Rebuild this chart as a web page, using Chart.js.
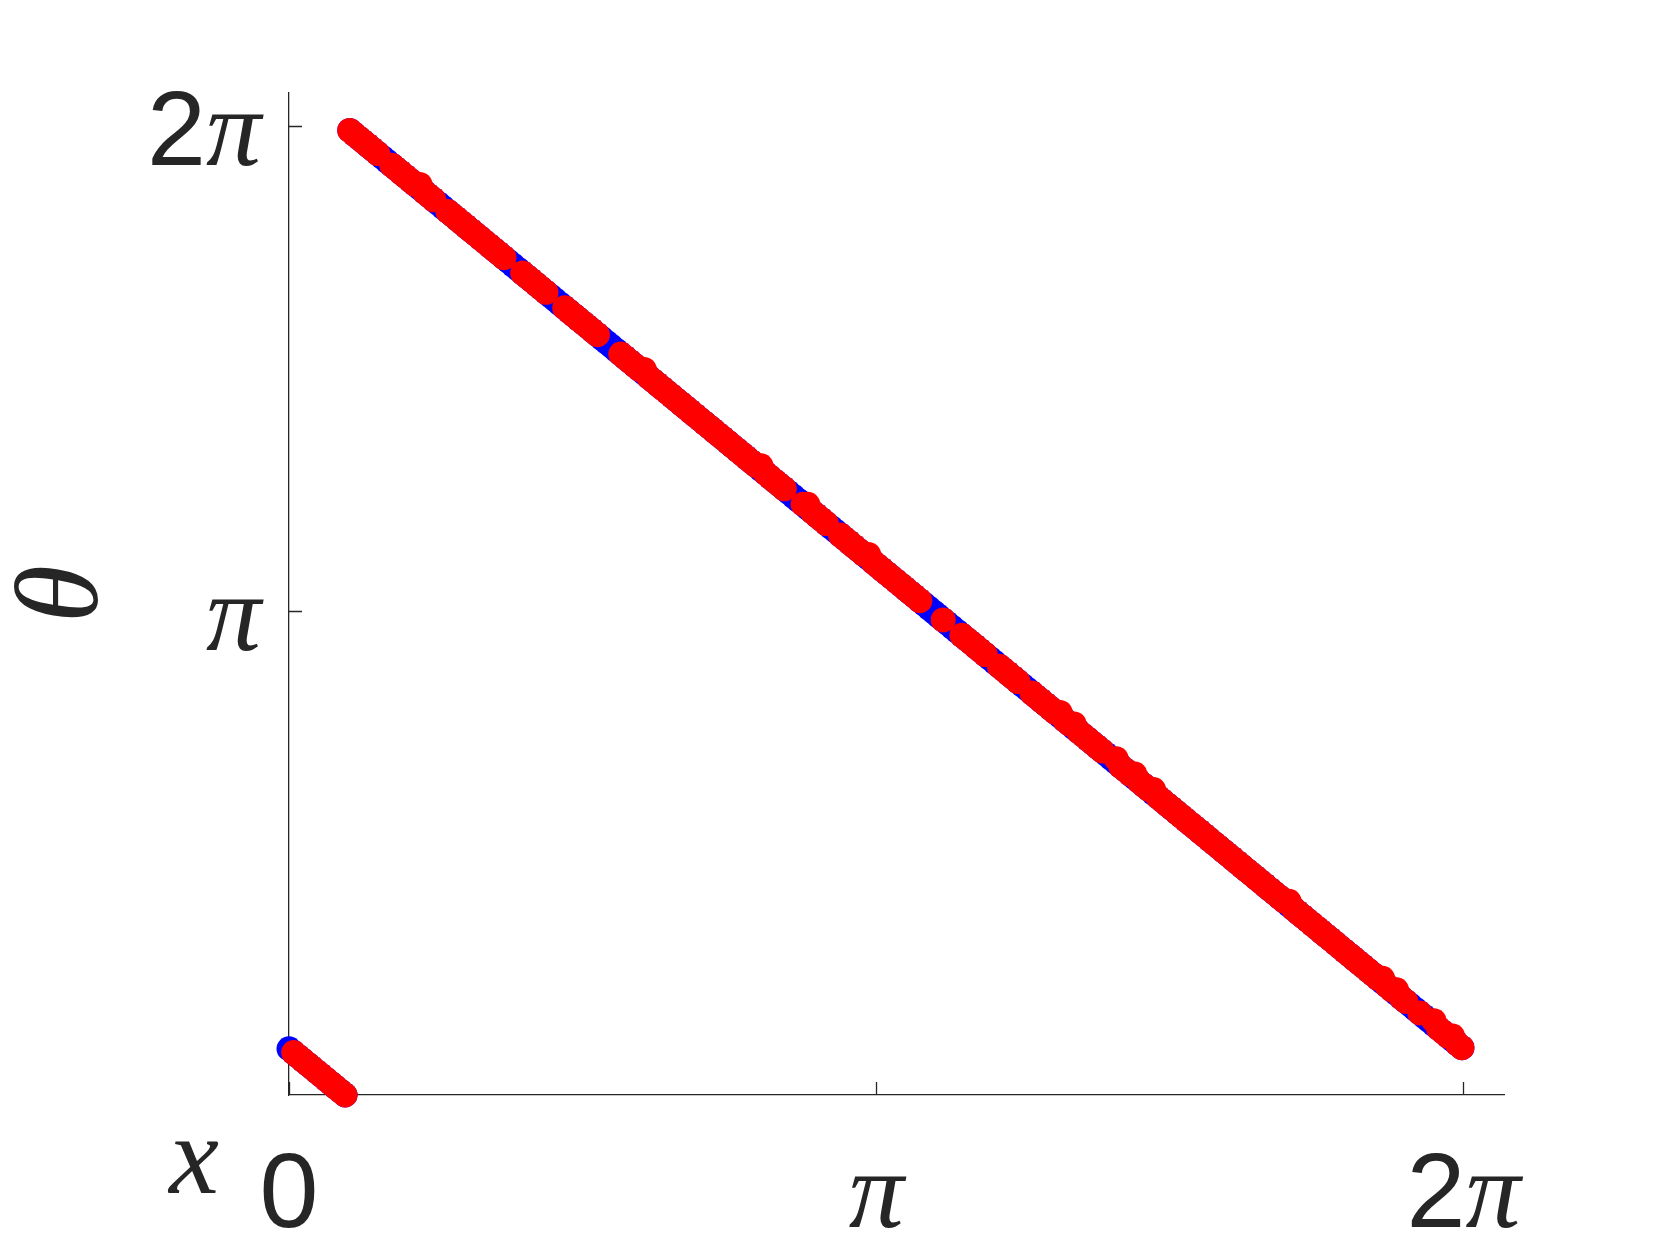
<!DOCTYPE html>
<html>
<head>
<meta charset="utf-8">
<script src="https://cdn.jsdelivr.net/npm/chart.js"></script>
<style>
  html, body { margin: 0; padding: 0; background: #fff; }
</style>
</head>
<body>
<canvas id="chartTheta" width="1661" height="1246"></canvas>
<script>
// sample positions (shared by both series)
let xValues = [0, 0.025, 0.05, 0.075, 0.1, 0.125, 0.15, 0.175, 0.2, 0.225, 0.25, 0.275, 0.3,
    0.325, 0.35, 0.375, 0.4, 0.425, 0.45, 0.475, 0.5, 0.525, 0.55,
    0.575, 0.6, 0.625, 0.65, 0.675, 0.7, 0.725, 0.75, 0.775, 0.8,
    0.825, 0.85, 0.875, 0.9, 0.925, 0.95, 0.975, 1, 1.025, 1.05,
    1.075, 1.1, 1.125, 1.15, 1.175, 1.2, 1.225, 1.25, 1.275, 1.3,
    1.325, 1.35, 1.375, 1.4, 1.425, 1.45, 1.475, 1.5, 1.525, 1.55,
    1.575, 1.6, 1.625, 1.65, 1.675, 1.7, 1.725, 1.75, 1.775, 1.8,
    1.825, 1.85, 1.875, 1.9, 1.925, 1.95, 1.975, 2, 2.025, 2.05,
    2.075, 2.1, 2.125, 2.15, 2.175, 2.2, 2.225, 2.25, 2.275, 2.3,
    2.325, 2.35, 2.375, 2.4, 2.425, 2.45, 2.475, 2.5, 2.525, 2.55,
    2.575, 2.6, 2.625, 2.65, 2.675, 2.7, 2.725, 2.75, 2.775, 2.8,
    2.825, 2.85, 2.875, 2.9, 2.925, 2.95, 2.975, 3, 3.025, 3.05,
    3.075, 3.1, 3.125, 3.15, 3.175, 3.2, 3.225, 3.25, 3.275, 3.3,
    3.325, 3.35, 3.375, 3.4, 3.425, 3.45, 3.475, 3.5, 3.525, 3.55,
    3.575, 3.6, 3.625, 3.65, 3.675, 3.7, 3.725, 3.75, 3.775, 3.8,
    3.825, 3.85, 3.875, 3.9, 3.925, 3.95, 3.975, 4, 4.025, 4.05,
    4.075, 4.1, 4.125, 4.15, 4.175, 4.2, 4.225, 4.25, 4.275, 4.3,
    4.325, 4.35, 4.375, 4.4, 4.425, 4.45, 4.475, 4.5, 4.525, 4.55,
    4.575, 4.6, 4.625, 4.65, 4.675, 4.7, 4.725, 4.75, 4.775, 4.8,
    4.825, 4.85, 4.875, 4.9, 4.925, 4.95, 4.975, 5, 5.025, 5.05,
    5.075, 5.1, 5.125, 5.15, 5.175, 5.2, 5.225, 5.25, 5.275, 5.3,
    5.325, 5.35, 5.375, 5.4, 5.425, 5.45, 5.475, 5.5, 5.525, 5.55,
    5.575, 5.6, 5.625, 5.65, 5.675, 5.7, 5.725, 5.75, 5.775, 5.8,
    5.825, 5.85, 5.875, 5.9, 5.925, 5.95, 5.975, 6, 6.025, 6.05,
    6.075, 6.1, 6.125, 6.15, 6.175, 6.2, 6.225, 6.25, 6.275];

// blue series (exact)
let thetaExact = [0.3, 0.275, 0.25, 0.225, 0.2, 0.175, 0.15, 0.125, 0.1, 0.075, 0.05, 0.025, 0,
    6.257, 6.232, 6.207, 6.182, 6.157, 6.132, 6.107, 6.082, 6.057, 6.032,
    6.007, 5.982, 5.957, 5.932, 5.907, 5.882, 5.857, 5.832, 5.807, 5.782,
    5.757, 5.732, 5.707, 5.682, 5.657, 5.632, 5.607, 5.582, 5.557, 5.532,
    5.507, 5.482, 5.457, 5.432, 5.407, 5.382, 5.357, 5.332, 5.307, 5.282,
    5.257, 5.232, 5.207, 5.182, 5.157, 5.132, 5.107, 5.082, 5.057, 5.032,
    5.007, 4.982, 4.957, 4.932, 4.907, 4.882, 4.857, 4.832, 4.807, 4.782,
    4.757, 4.732, 4.707, 4.682, 4.657, 4.632, 4.607, 4.582, 4.557, 4.532,
    4.507, 4.482, 4.457, 4.432, 4.407, 4.382, 4.357, 4.332, 4.307, 4.282,
    4.257, 4.232, 4.207, 4.182, 4.157, 4.132, 4.107, 4.082, 4.057, 4.032,
    4.007, 3.982, 3.957, 3.932, 3.907, 3.882, 3.857, 3.832, 3.807, 3.782,
    3.757, 3.732, 3.707, 3.682, 3.657, 3.632, 3.607, 3.582, 3.557, 3.532,
    3.507, 3.482, 3.457, 3.432, 3.407, 3.382, 3.357, 3.332, 3.307, 3.282,
    3.257, 3.232, 3.207, 3.182, 3.157, 3.132, 3.107, 3.082, 3.057, 3.032,
    3.007, 2.982, 2.957, 2.932, 2.907, 2.882, 2.857, 2.832, 2.807, 2.782,
    2.757, 2.732, 2.707, 2.682, 2.657, 2.632, 2.607, 2.582, 2.557, 2.532,
    2.507, 2.482, 2.457, 2.432, 2.407, 2.382, 2.357, 2.332, 2.307, 2.282,
    2.257, 2.232, 2.207, 2.182, 2.157, 2.132, 2.107, 2.082, 2.057, 2.032,
    2.007, 1.982, 1.957, 1.932, 1.907, 1.882, 1.857, 1.832, 1.807, 1.782,
    1.757, 1.732, 1.707, 1.682, 1.657, 1.632, 1.607, 1.582, 1.557, 1.532,
    1.507, 1.482, 1.457, 1.432, 1.407, 1.382, 1.357, 1.332, 1.307, 1.282,
    1.257, 1.232, 1.207, 1.182, 1.157, 1.132, 1.107, 1.082, 1.057, 1.032,
    1.007, 0.982, 0.957, 0.932, 0.907, 0.882, 0.857, 0.832, 0.807, 0.782,
    0.757, 0.732, 0.707, 0.682, 0.657, 0.632, 0.607, 0.582, 0.557, 0.532,
    0.507, 0.482, 0.457, 0.432, 0.407, 0.382, 0.357, 0.332, 0.307];

// red series (computed), null where no red point shows
let thetaComputed = [null, 0.275, 0.25, 0.225, 0.2, 0.175, 0.15, 0.125, 0.1, 0.075, 0.05, 0.025, 0,
    6.257, 6.232, 6.207, 6.182, 6.157, 6.132, 6.107, null, null, 6.032,
    6.007, 5.982, 5.957, 5.932, 5.907, 5.907, 5.857, 5.832, 5.807, null,
    null, 5.732, 5.707, 5.682, 5.657, 5.632, 5.607, 5.582, 5.557, 5.532,
    5.507, 5.482, 5.457, 5.432, null, null, null, 5.332, 5.307, 5.282,
    5.257, 5.232, 5.207, null, null, null, 5.107, 5.082, 5.057, 5.032,
    5.007, 4.982, 4.957, 4.932, null, null, null, null, 4.807, 4.782,
    4.757, 4.732, 4.707, 4.707, 4.657, 4.632, 4.607, 4.582, 4.557, 4.532,
    4.507, 4.482, 4.457, 4.432, 4.407, 4.382, 4.357, 4.332, 4.307, 4.282,
    4.257, 4.232, 4.207, 4.182, 4.157, 4.132, 4.107, 4.082, 4.082, 4.032,
    4.007, 3.982, 3.957, 3.932, null, null, null, 3.832, 3.832, 3.782,
    3.757, 3.732, 3.707, null, null, 3.632, 3.607, 3.582, 3.557, 3.532,
    3.507, 3.507, 3.457, 3.432, 3.407, 3.382, 3.357, 3.332, 3.307, 3.282,
    3.257, 3.232, 3.207, null, null, null, null, 3.082, null, null,
    null, 2.982, 2.957, 2.932, 2.907, 2.882, 2.857, null, null, 2.782,
    2.757, 2.732, 2.707, 2.682, null, null, 2.607, 2.582, 2.557, 2.532,
    2.507, 2.482, 2.482, 2.432, 2.407, 2.407, 2.357, 2.332, 2.307, 2.282,
    2.257, 2.232, null, null, 2.182, 2.132, 2.107, 2.082, 2.082, 2.032,
    2.007, 1.982, 1.982, 1.932, 1.907, 1.882, 1.857, 1.832, 1.807, 1.782,
    1.757, 1.732, 1.707, 1.682, 1.657, 1.632, 1.607, 1.582, 1.557, 1.532,
    1.507, 1.482, 1.457, 1.432, 1.407, 1.382, 1.357, 1.332, 1.307, 1.282,
    1.257, 1.257, 1.207, 1.182, 1.157, 1.132, 1.107, 1.082, 1.057, 1.032,
    1.007, 0.982, 0.957, 0.932, 0.907, 0.882, 0.857, 0.832, 0.807, 0.782,
    0.757, 0.757, 0.707, 0.682, 0.682, 0.632, 0.607, null, null, 0.532,
    null, null, 0.482, 0.432, 0.407, 0.382, 0.382, 0.332, 0.307];

let xTickValues = [0, Math.PI, 2 * Math.PI];
let xTickLabels = ["0", "π", "2π"];
let yTickValues = [Math.PI, 2 * Math.PI];
let yTickLabels = ["π", "2π"];

const INK = "#262626";
const SANS = '106px "Liberation Sans"';
const MATH = 'italic 110px "Liberation Serif"';

function toPoints(xs, ys) {
    return xs.map((x, i) => ({ x: x, y: ys[i] }));
}

// draws a label like "2π" with the digit upright sans and π italic serif
function drawMixed(ctx, text, x, y, align) {
    let runs = [];
    for (const ch of text) {
        runs.push({ t: ch, font: ch === "π" ? MATH : SANS });
    }
    let total = 0;
    runs.forEach(r => { ctx.font = r.font; r.w = ctx.measureText(r.t).width; total += r.w; });
    let start = align === "right" ? x - total : x - total / 2;
    ctx.textAlign = "left";
    ctx.textBaseline = "alphabetic";
    runs.forEach(r => {
        ctx.font = r.font;
        ctx.fillText(r.t, start, y);
        start += r.w;
    });
}

const axisDecor = {
    id: "axisDecor",
    beforeDatasetsDraw(chart) {
        const ctx = chart.ctx;
        const area = chart.chartArea;
        const xs = chart.scales.x, ys = chart.scales.y;
        ctx.save();
        ctx.strokeStyle = INK;
        ctx.lineWidth = 1.3;
        ctx.beginPath();
        xTickValues.forEach(v => {
            const px = Math.round(xs.getPixelForValue(v)) + 0.5;
            ctx.moveTo(px, area.bottom);
            ctx.lineTo(px, area.bottom - 13);
        });
        yTickValues.forEach(v => {
            const py = Math.round(ys.getPixelForValue(v)) + 0.5;
            ctx.moveTo(area.left, py);
            ctx.lineTo(area.left + 13, py);
        });
        ctx.stroke();
        ctx.restore();
    },
    afterDraw(chart) {
        const ctx = chart.ctx;
        const area = chart.chartArea;
        const xs = chart.scales.x, ys = chart.scales.y;
        ctx.save();
        ctx.fillStyle = INK;
        xTickValues.forEach((v, i) => {
            drawMixed(ctx, xTickLabels[i], xs.getPixelForValue(v), area.bottom + 132, "center");
        });
        yTickValues.forEach((v, i) => {
            drawMixed(ctx, yTickLabels[i], area.left - 28, ys.getPixelForValue(v) + 39, "right");
        });
        // axis names
        ctx.font = 'italic 112px "Liberation Serif"';
        ctx.textAlign = "center";
        ctx.textBaseline = "alphabetic";
        ctx.fillText("x", 194, area.bottom + 98);
        ctx.translate(97, (area.top + area.bottom) / 2);
        ctx.rotate(-Math.PI / 2);
        ctx.font = 'italic 118px "Liberation Serif"';
        ctx.fillText("θ", 0, 0);
        ctx.restore();
    }
};

new Chart("chartTheta", {
    type: "scatter",
    data: {
        datasets: [{
            label: "computed",
            data: toPoints(xValues, thetaComputed),
            backgroundColor: "#ff0000",
            borderWidth: 0,
            pointRadius: 12.5,
            clip: false,
            order: 0
        }, {
            label: "exact",
            data: toPoints(xValues, thetaExact),
            backgroundColor: "#0000ff",
            borderWidth: 0,
            pointRadius: 12.5,
            clip: false,
            order: 1
        }]
    },
    options: {
        responsive: false,
        animation: false,
        devicePixelRatio: 1,
        layout: { padding: { top: 93, right: 157, left: 0, bottom: 0 } },
        plugins: {
            legend: { display: false },
            tooltip: { enabled: false }
        },
        scales: {
            x: {
                type: "linear",
                min: 0,
                max: 6.5,
                grid: { display: false },
                border: { display: true, color: INK, width: 1.3 },
                ticks: { display: false },
                afterFit: function (scale) { scale.height = 151; }
            },
            y: {
                type: "linear",
                min: 0,
                max: 6.5,
                grid: { display: false },
                border: { display: true, color: INK, width: 1.3 },
                ticks: { display: false },
                afterFit: function (scale) { scale.width = 289; }
            }
        }
    },
    plugins: [axisDecor]
});
</script>
</body>
</html>
